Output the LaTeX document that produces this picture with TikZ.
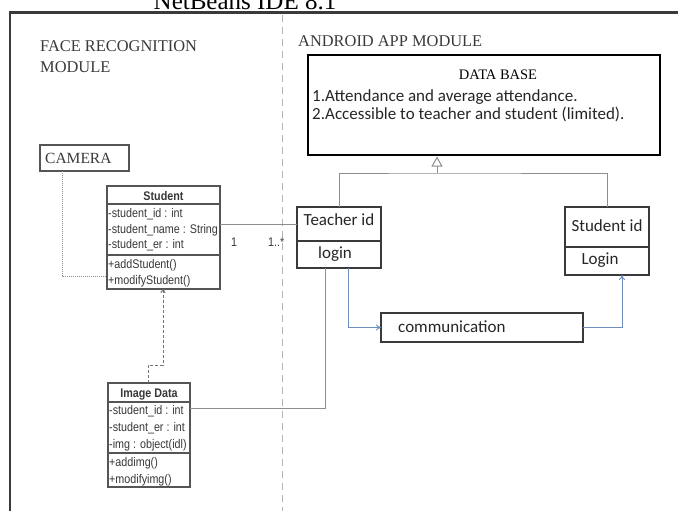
\documentclass[tikz,border=0pt]{standalone}
\usepackage{fontspec}
\setmainfont{Liberation Serif}
\newfontfamily\calfont{Carlito}
\newfontfamily\narfont[FakeStretch=0.86]{Liberation Sans}
\usetikzlibrary{arrows.meta}
\definecolor{frame}{HTML}{3A3A3A}
\definecolor{conn}{HTML}{8E8E8E}
\definecolor{boxc}{HTML}{555555}
\definecolor{txtc}{HTML}{383838}
\definecolor{bluec}{HTML}{6D8DBE}
\tikzset{
  box/.style={draw, anchor=north west, inner sep=0pt, outer sep=0pt},
  cls/.style={box, draw=boxc, line width=1.1pt},
  idbox/.style={box, draw=frame, line width=1.4pt},
  ctext/.style={anchor=base west, inner sep=0pt, font=\narfont\fontsize{12.5}{14}\selectfont, text=txtc},
  chead/.style={anchor=base, inner sep=0pt, font=\narfont\bfseries\fontsize{12.5}{14}\selectfont, text=txtc},
  ser/.style={anchor=base west, inner sep=0pt, text=frame},
  cal/.style={anchor=base, inner sep=0pt, font=\calfont\fontsize{17}{20}\selectfont, text=black!85},
  conline/.style={draw=conn, line width=0.8pt},
  bluearrow/.style={draw=bluec, line width=1pt, -{To[length=5pt,width=6pt]}},
}
\begin{document}
\begin{tikzpicture}[x=1pt,y=-1pt]
\useasboundingbox (0,0) rectangle (678,511);
\clip (0,0) rectangle (678,511);
\fill[white] (0,0) rectangle (678,511);

% title (cut at the top, as in the reference)
\node[anchor=base, inner sep=0pt, font=\fontsize{25}{28}\selectfont] (title) at (245,10) {NetBeans IDE 8.1};

% frame and separator
\draw[frame, line width=2.5pt] (10,511) -- (10,12.5) -- (678,12.5);
\draw[gray!60, line width=0.8pt, dash pattern=on 7pt off 5pt] (282,15) -- (282,511);

% module titles
\node[ser, font=\fontsize{16.4}{18}\selectfont] (frm1) at (40,52) {FACE RECOGNITION};
\node[ser, font=\fontsize{16.4}{18}\selectfont] (frm2) at (40,73) {MODULE};
\node[ser, font=\fontsize{16.4}{18}\selectfont] (andr) at (298,47) {ANDROID APP MODULE};

% database
\node[box, draw=black, line width=2pt, minimum width=352pt, minimum height=100pt] (db) at (308,55) {};
\node[anchor=base, inner sep=0pt, font=\fontsize{14.5}{16}\selectfont] (dbt) at (498,80) {DATA BASE};
\node[cal, anchor=base west] (db1) at (312,102) {1.Attendance and average attendance.};
\node[cal, anchor=base west] (db2) at (312,119) {2.Accessible to teacher and student (limited).};

% teacher id
\node[idbox, minimum width=84pt, minimum height=34pt] (tname) at (297,207) {};
\node[idbox, minimum width=84pt, minimum height=27pt] (tlogin) at (297,241) {};
\node[cal] (tnt) at (339,225) {Teacher id};
\node[cal] (tlt) at (335,258) {login};

% student id
\node[idbox, minimum width=84pt, minimum height=40pt] (sname) at (565,207) {};
\node[idbox, minimum width=84pt, minimum height=28pt] (slogin) at (565,247) {};
\node[cal] (snt) at (607,231) {Student id};
\node[cal] (slt) at (600,264) {Login};

% communication
\node[box, draw=frame, line width=1.4pt, minimum width=202pt, minimum height=29pt] (comm) at (381,313) {};
\node[cal, anchor=base west] (commt) at (398,332) {communication};

% generalization
\coordinate (hub) at (437,173);
\draw[conline] (tname.north) |- (hub) -| (sname.north);
\draw[conline, -{Triangle[open, length=10pt, width=11pt, line width=1pt]}, shorten >=1.5pt] (hub) -- (db.south -| hub);

% blue arrows
\draw[bluearrow] (tlogin.south -| 348,0) |- (comm.west);
\draw[bluearrow] (comm.east) -| (slogin.south -| 622,0);

% camera
\node[box, draw=boxc, line width=1.1pt, minimum width=89pt, minimum height=26pt] (camera) at (40,145) {};
\node[ser, font=\fontsize{15.5}{17}\selectfont] (camt) at (45,164) {CAMERA};

% Student class
\node[cls, minimum width=113pt, minimum height=18pt] (sh) at (107,186) {};
\node[cls, minimum width=113pt, minimum height=51pt] (sa) at (107,204) {};
\node[cls, minimum width=113pt, minimum height=34pt] (sm) at (107,255) {};
\node[chead] (sht) at (163.5,200) {Student};
\node[ctext] (sa1) at (108,217) {-student\_id : int};
\node[ctext] (sa2) at (108,233) {-student\_name : String};
\node[ctext] (sa3) at (108,248.5) {-student\_er : int};
\node[ctext] (sm1) at (108,268) {+addStudent()};
\node[ctext] (sm2) at (108,284) {+modifyStudent()};

% Image Data class
\node[cls, minimum width=82pt, minimum height=19pt] (ih) at (108,383) {};
\node[cls, minimum width=82pt, minimum height=51pt] (ia) at (108,402) {};
\node[cls, minimum width=82pt, minimum height=34pt] (im) at (108,453) {};
\node[chead] (iht) at (149,397) {Image Data};
\node[ctext] (ia1) at (109,414) {-student\_id : int};
\node[ctext] (ia2) at (109,431) {-student\_er : int};
\node[ctext] (ia3) at (109,448) {-img : object(idl)};
\node[ctext] (im1) at (109,466) {+addimg()};
\node[ctext] (im2) at (109,483) {+modifyimg()};

% Student -- Teacher association
\draw[conline] (sa.east |- tname.west) -- (tname.west);
\node[ctext] (m1) at (231,246) {1};
\node[ctext] (m2) at (268,246) {1..*};

% Image Data -- Teacher
\draw[conline] (ia.east |- 0,408) -| (tlogin.south -| 325,0);

% Camera -- Student (dotted)
\draw[conline, dash pattern=on 1pt off 1pt] (camera.south -| 62,0) |- (sm.west |- 0,276);

% Student -- Image Data (dashed)
\draw[draw=gray!90!black, line width=1pt, dash pattern=on 3pt off 2pt, {To[length=4pt,width=5pt]}-] (sm.south -| 163,0) -- (163,365) -| (ih.north -| 148,0);
\end{tikzpicture}
\end{document}
